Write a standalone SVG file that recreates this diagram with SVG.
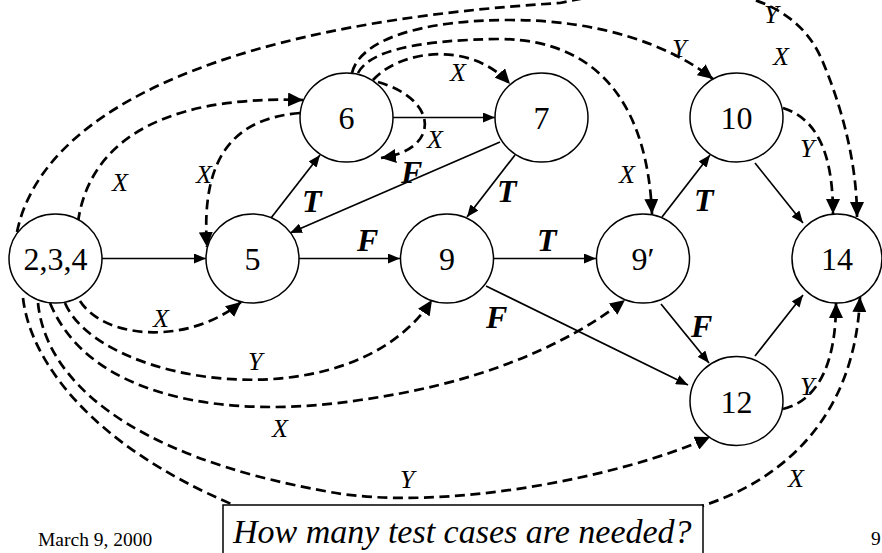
<svg xmlns="http://www.w3.org/2000/svg" width="882" height="553" viewBox="0 0 882 553">
<style>
.n{fill:#fff;stroke:#000;stroke-width:1.5}
.nt{font-family:"Liberation Serif","Times New Roman",serif;font-size:32px;text-anchor:middle;fill:#000}
.s{fill:none;stroke:#000;stroke-width:1.7;marker-end:url(#as)}
.d{fill:none;stroke:#000;stroke-width:2.7;stroke-dasharray:10 5.5;marker-end:url(#ad)}
.b{font-family:"Liberation Serif","Times New Roman",serif;font-size:32px;font-weight:bold;font-style:italic;fill:#000}
.i{font-family:"Liberation Serif","Times New Roman",serif;font-size:26px;font-style:italic;fill:#000}
.f{font-family:"Liberation Serif","Times New Roman",serif;font-size:19.5px;fill:#000}
</style>
<defs>
<marker id="as" viewBox="0 0 12 10" refX="12" refY="5" markerWidth="12" markerHeight="10" orient="auto" markerUnits="userSpaceOnUse"><path d="M0,0 L12,5 L0,10 z" fill="#000" stroke="none"/></marker>
<marker id="ad" viewBox="0 0 15 14" refX="15" refY="7" markerWidth="15" markerHeight="14" orient="auto" markerUnits="userSpaceOnUse"><path d="M0,0 L15,7 L0,14 z" fill="#000" stroke="none"/></marker>
</defs>
<rect width="882" height="553" fill="#fff"/>
<g id="connectors">
<path class="s" d="M102,258.5 L206,258.5"/>
<path class="s" d="M299,258.5 L400,258.5"/>
<path class="s" d="M271,218 L320,155"/>
<path class="s" d="M500,142 L290,233"/>
<path class="s" d="M393,117.5 L495,117.5"/>
<path class="s" d="M515,155 L467,217"/>
<path class="s" d="M493,258.5 L596,258.5"/>
<path class="s" d="M486,286 L688,385"/>
<path class="s" d="M662,217 L710,155"/>
<path class="s" d="M661,304 L709,363"/>
<path class="s" d="M755,163 L803,223"/>
<path class="s" d="M755,356 L803,295"/>
<path class="d" d="M17,232 C40,120 200,25 560,3 C690,-25 790,-15 822,60 C840,102 857,160 857,217"/>
<path class="d" d="M78,222 C88,150 150,95 303,100"/>
<path class="d" d="M300,113 C240,118 200,150 207,247"/>
<path class="d" d="M80,301 C105,340 190,345 241,302"/>
<path class="d" d="M65,303 C100,385 350,425 432,300"/>
<path class="d" d="M50,303 C90,400 230,420 360,400 C470,385 560,350 625,300"/>
<path class="d" d="M38,303 C45,375 120,455 330,492 C440,512 620,478 710,437"/>
<path class="d" d="M23,298 C30,360 90,445 236,506 C400,560 600,540 705,505 C780,480 855,420 860,297"/>
<path class="d" d="M783,108 C815,118 833,150 833,214"/>
<path class="d" d="M783,409 C820,400 836,360 836,303"/>
<path class="d" d="M352,73 C360,40 420,20 510,20 C600,20 670,45 713,79"/>
<path class="d" d="M358,73 C370,50 420,40 500,39 C610,40 648,120 652,214"/>
<path class="d" d="M373,80 C400,50 470,40 510,84"/>
<path class="d" d="M378,82 C440,100 440,150 381,158"/>
</g>
<g id="edge-labels">
<text class="b" x="302" y="212">T</text>
<text class="b" x="401" y="183">F</text>
<text class="b" x="357" y="251">F</text>
<text class="b" x="497" y="202">T</text>
<text class="b" x="537" y="251">T</text>
<text class="b" x="486" y="328">F</text>
<text class="b" x="694" y="211">T</text>
<text class="b" x="691" y="337">F</text>
<text class="i" x="112" y="191">X</text>
<text class="i" x="196" y="183">X</text>
<text class="i" x="450" y="81">X</text>
<text class="i" x="427" y="148">X</text>
<text class="i" x="672" y="57">Y</text>
<text class="i" x="619" y="183">X</text>
<text class="i" x="773" y="65">X</text>
<text class="i" x="764" y="23">Y</text>
<text class="i" x="800" y="157">Y</text>
<text class="i" x="153" y="327">X</text>
<text class="i" x="248" y="370">Y</text>
<text class="i" x="272" y="437">X</text>
<text class="i" x="400" y="488">Y</text>
<text class="i" x="788" y="487">X</text>
<text class="i" x="800" y="395">Y</text>
</g>
<g id="node-234"><ellipse class="n" cx="55.5" cy="258.5" rx="46.5" ry="44.5"/><text class="nt" x="55.5" y="270">2,3,4</text></g>
<g id="node-5"><ellipse class="n" cx="252.5" cy="258.5" rx="46.5" ry="44.5"/><text class="nt" x="252.5" y="270">5</text></g>
<g id="node-6"><ellipse class="n" cx="346.5" cy="117.5" rx="46.5" ry="44.5"/><text class="nt" x="346.5" y="129">6</text></g>
<g id="node-7"><ellipse class="n" cx="541.5" cy="117.5" rx="46.5" ry="44.5"/><text class="nt" x="541.5" y="129">7</text></g>
<g id="node-9"><ellipse class="n" cx="447" cy="258.5" rx="46.5" ry="44.5"/><text class="nt" x="447" y="270">9</text></g>
<g id="node-9p"><ellipse class="n" cx="643" cy="258.5" rx="46.5" ry="44.5"/><text class="nt" x="643" y="270">9′</text></g>
<g id="node-10"><ellipse class="n" cx="736.5" cy="117.5" rx="46.5" ry="44.5"/><text class="nt" x="736.5" y="129">10</text></g>
<g id="node-12"><ellipse class="n" cx="736.5" cy="401" rx="46.5" ry="44.5"/><text class="nt" x="736.5" y="412.5">12</text></g>
<g id="node-14"><ellipse class="n" cx="837" cy="258.5" rx="45" ry="44.5"/><text class="nt" x="837" y="270">14</text></g>
<g id="question-box"><rect x="223" y="505" width="480" height="60" fill="#fff" stroke="#000" stroke-width="1.5"/><text x="233" y="543" font-family="'Liberation Serif','Times New Roman',serif" font-size="34" font-style="italic">How many test cases are needed?</text></g>
<text class="f" x="38" y="546">March 9, 2000</text>
<text class="f" x="871" y="545">9</text>
</svg>
